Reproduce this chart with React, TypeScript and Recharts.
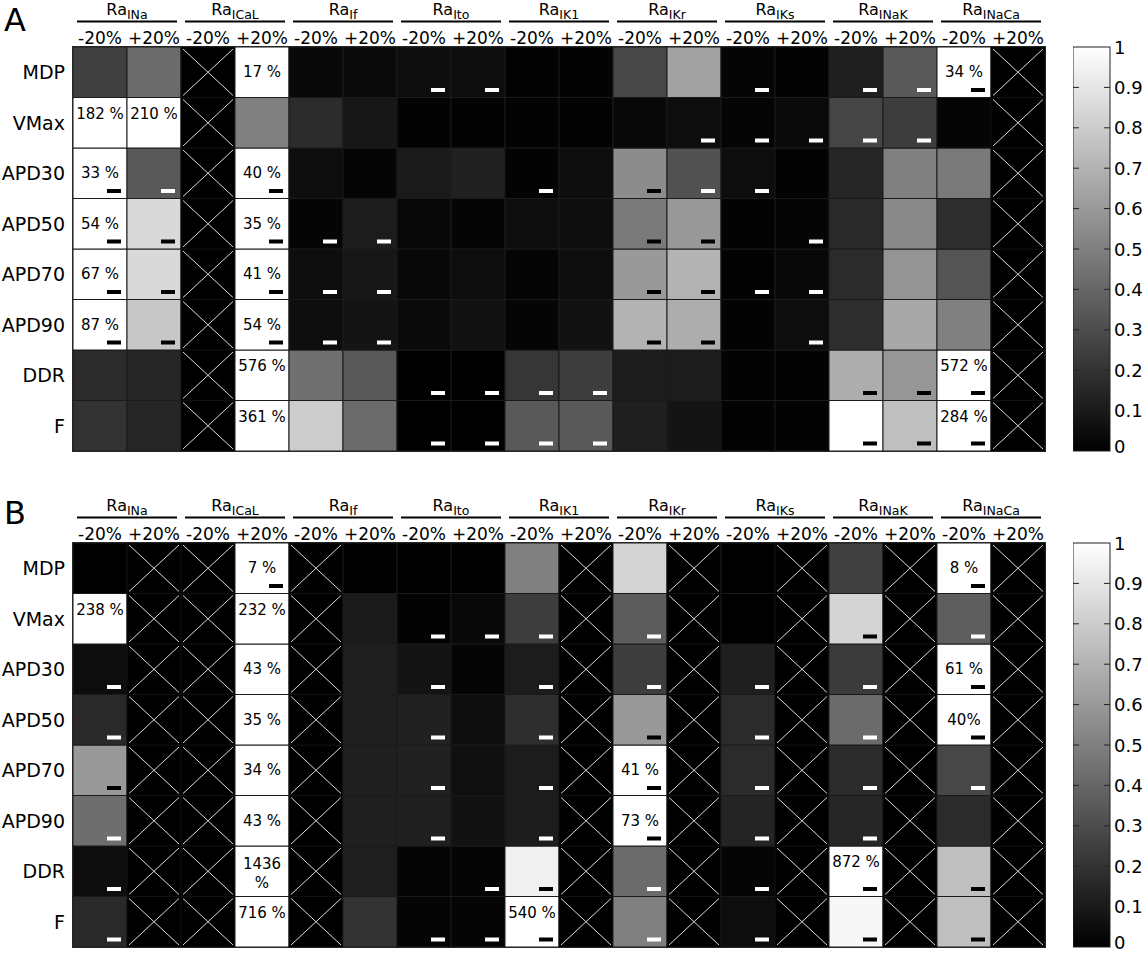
import React from "react"
import { BarChart, Bar, XAxis, YAxis, ReferenceArea } from "recharts"

const FONT = "DejaVu Sans"

const ROWS = ['MDP', 'VMax', 'APD30', 'APD50', 'APD70', 'APD90', 'DDR', 'F']
const CURRENTS = ['INa', 'ICaL', 'If', 'Ito', 'IK1', 'IKr', 'IKs', 'INaK', 'INaCa']
const CHANGES = ['-20%', '+20%']
const CB_TICKS = [0, 0.1, 0.2, 0.3, 0.4, 0.5, 0.6, 0.7, 0.8, 0.9, 1]
const X = null // crossed out cell

// panel A, one array per biomarker (18 columns: current x -20%/+20%)
const A_MDP = [0.25, 0.42, X, 1, 0.03, 0.04, 0.05, 0.05, 0.01, 0.01, 0.28, 0.63, 0.02, 0.01, 0.12, 0.35, 1, X]
const A_VMAX = [1, 1, X, 0.5, 0.17, 0.09, 0.01, 0.01, 0.01, 0.01, 0.03, 0.05, 0.02, 0.04, 0.27, 0.24, 0.02, X]
const A_APD30 = [1, 0.35, X, 1, 0.05, 0.02, 0.1, 0.13, 0.01, 0.05, 0.55, 0.32, 0.05, 0.01, 0.15, 0.5, 0.48, X]
const A_APD50 = [1, 0.85, X, 1, 0.02, 0.11, 0.03, 0.02, 0.05, 0.05, 0.48, 0.6, 0.01, 0.02, 0.16, 0.54, 0.18, X]
const A_APD70 = [1, 0.85, X, 1, 0.05, 0.09, 0.03, 0.05, 0.02, 0.05, 0.6, 0.7, 0.01, 0.03, 0.17, 0.58, 0.33, X]
const A_APD90 = [1, 0.78, X, 1, 0.05, 0.08, 0.04, 0.07, 0.02, 0.07, 0.7, 0.68, 0.01, 0.05, 0.18, 0.66, 0.5, X]
const A_DDR = [0.17, 0.15, X, 1, 0.44, 0.35, 0, 0, 0.21, 0.24, 0.11, 0.11, 0.01, 0.01, 0.68, 0.59, 1, X]
const A_F = [0.2, 0.15, X, 1, 0.8, 0.42, 0, 0, 0.35, 0.35, 0.12, 0.08, 0.01, 0.01, 1, 0.75, 1, X]

// dash under a cell: w = white dash, k = black dash
const A_MARKS = [
    '......ww....w.wwk.',
    '...........wwwww..',
    'kw.k....w.kww.....',
    'kk.kww....kk.w....',
    'kk.kww....kkww....',
    'kk.kww....kk.w....',
    '......wwww....kkk.',
    '......wwww....kkk.',
]

const A_TEXT: [number, number, string][] = [
    [0, 3, '17 %'], [0, 16, '34 %'], [1, 0, '182 %'], [1, 1, '210 %'],
    [2, 0, '33 %'], [2, 3, '40 %'], [3, 0, '54 %'], [3, 3, '35 %'],
    [4, 0, '67 %'], [4, 3, '41 %'], [5, 0, '87 %'], [5, 3, '54 %'],
    [6, 3, '576 %'], [6, 16, '572 %'], [7, 3, '361 %'], [7, 16, '284 %'],
]

// panel B
const B_MDP = [0, X, X, 1, X, 0, 0, 0, 0.5, X, 0.83, X, 0, X, 0.25, X, 1, X]
const B_VMAX = [1, X, X, 1, X, 0.1, 0.01, 0.03, 0.24, X, 0.36, X, 0, X, 0.83, X, 0.37, X]
const B_APD30 = [0.05, X, X, 1, X, 0.12, 0.08, 0.02, 0.11, X, 0.24, X, 0.12, X, 0.23, X, 1, X]
const B_APD50 = [0.16, X, X, 1, X, 0.12, 0.13, 0.05, 0.18, X, 0.6, X, 0.17, X, 0.42, X, 1, X]
const B_APD70 = [0.6, X, X, 1, X, 0.12, 0.13, 0.06, 0.11, X, 1, X, 0.17, X, 0.17, X, 0.28, X]
const B_APD90 = [0.43, X, X, 1, X, 0.12, 0.12, 0.07, 0.11, X, 1, X, 0.14, X, 0.15, X, 0.17, X]
const B_DDR = [0.05, X, X, 1, X, 0.12, 0.02, 0.02, 0.94, X, 0.42, X, 0.02, X, 1, X, 0.75, X]
const B_F = [0.16, X, X, 1, X, 0.2, 0.02, 0.02, 1, X, 0.5, X, 0.05, X, 0.97, X, 0.75, X]

const B_MARKS = [
    '...k............k.',
    '......www.w...k.w.',
    'w.....w.w.w.w.w.k.',
    'w.....w.w.k.w.w.k.',
    'k.....w.w.k.w.w.w.',
    'w.....w.w.k.w.w...',
    'w......wk.w.w.k.k.',
    'w.....wwk.w.w.k.k.',
]

const B_TEXT: [number, number, string][] = [
    [0, 3, '7 %'], [0, 16, '8 %'], [1, 0, '238 %'], [1, 3, '232 %'],
    [2, 3, '43 %'], [2, 16, '61 %'], [3, 3, '35 %'], [3, 16, '40%'],
    [4, 3, '34 %'], [4, 10, '41 %'], [5, 3, '43 %'], [5, 10, '73 %'],
    [6, 3, '1436\n%'], [6, 14, '872 %'], [7, 3, '716 %'], [7, 8, '540 %'],
]

const PANEL_A = {
    values: [A_MDP, A_VMAX, A_APD30, A_APD50, A_APD70, A_APD90, A_DDR, A_F],
    marks: A_MARKS,
    texts: A_TEXT,
}
const PANEL_B = {
    values: [B_MDP, B_VMAX, B_APD30, B_APD50, B_APD70, B_APD90, B_DDR, B_F],
    marks: B_MARKS,
    texts: B_TEXT,
}

// every cell is a unit block in a stack of 8 rows
const COL_KEYS = CURRENTS.flatMap(c => CHANGES.map(ch => `${c}${ch}`))
const columnData = COL_KEYS.map((key, ci) => {
    const row: any = { key, ci }
    ROWS.forEach((_, r) => { row[`r${r}`] = 1 })
    return row
})

const COL_W = 54
const PLOT_W = COL_W * 18
const Y_AXIS_W = 60
const CHART_H = 455
const CB_W = 37

const gray = (v: number) => {
    const g = Math.round(v * 255)
    return `rgb(${g},${g},${g})`
}

const txt = (size: number): React.CSSProperties => ({ fontSize: `${size}px`, fontFamily: FONT })

function renderCell(p: any, panel: any, r: number) {
    const { x, y, width: w, height: h, payload } = p
    const c = payload.ci
    const v = panel.values[r][c]
    const mark = panel.marks[r][c]
    const label = panel.texts.find((t: any) => t[0] === r && t[1] === c)
    const cx = x + w / 2
    const cy = y + h / 2
    if (v === null) {
        return (
            <g>
                <rect x={x} y={y} width={w} height={h} fill="#000" stroke="#111" strokeWidth={1} />
                <line x1={x + 2} y1={y + 2} x2={x + w - 2} y2={y + h - 2} stroke="#dcdcdc" strokeWidth={1} />
                <line x1={x + 2} y1={y + h - 2} x2={x + w - 2} y2={y + 2} stroke="#dcdcdc" strokeWidth={1} />
            </g>
        )
    }
    let text = null
    if (label) {
        const s: string = label[2]
        if (s.includes('\n')) {
            const [l1, l2] = s.split('\n')
            text = (
                <text textAnchor="middle" style={txt(15)} fill="#000">
                    <tspan x={cx} y={cy - 2}>{l1}</tspan>
                    <tspan x={cx} y={cy + 17}>{l2}</tspan>
                </text>
            )
        } else {
            const by = s.length >= 5 ? cy - 4 : cy + 5
            text = <text x={cx} y={by} textAnchor="middle" style={txt(15)} fill="#000">{s}</text>
        }
    }
    return (
        <g>
            <rect x={x} y={y} width={w} height={h} fill={gray(v)} stroke="#1a1a1a" strokeWidth={1} />
            {text}
            {mark !== '.' && (
                <rect x={x + w - 20} y={y + h - 9.5} width={14} height={4} fill={mark === 'w' ? '#fff' : '#000'} />
            )}
        </g>
    )
}

function ColumnTick(props: any) {
    const { x, y, payload } = props
    const ci = COL_KEYS.indexOf(payload.value)
    const j = ci % 2
    return (
        <g>
            <text x={x} y={y - 3} textAnchor="middle" style={txt(17)} fill="#000">{CHANGES[j]}</text>
            {j === 0 && (
                <g>
                    <text x={x + COL_W / 2} y={y - 32} textAnchor="middle" style={txt(16)} fill="#000">
                        <tspan>Ra</tspan>
                        <tspan style={txt(12.5)} dy={3.5}>{CURRENTS[ci / 2]}</tspan>
                    </text>
                    <line x1={x - COL_W / 2 + 4} x2={x + COL_W * 1.5 - 4} y1={y - 25.5} y2={y - 25.5} stroke="#000" strokeWidth={2} />
                </g>
            )}
        </g>
    )
}

function RowTick(props: any) {
    const { x, y, payload } = props
    const r = 7 - Math.floor(payload.value)
    return (
        <text x={x - 8} y={y + 7} textAnchor="end" style={txt(19)} fill="#000">{ROWS[r]}</text>
    )
}

function CbTick(props: any) {
    const { x, y, payload } = props
    const v = payload.value
    const s = v === 0 ? '0' : v === 1 ? '1' : v.toFixed(1)
    return (
        <g>
            {v > 0 && v < 1 && (
                <g>
                    <line x1={x - CB_W} x2={x - CB_W + 6} y1={y} y2={y} stroke="#222" strokeWidth={1} />
                    <line x1={x - 6} x2={x} y1={y} y2={y} stroke="#222" strokeWidth={1} />
                </g>
            )}
            <text x={x + 4} y={v === 0 ? y + 2 : y + 6.5} textAnchor="start" style={txt(18)} fill="#000">{s}</text>
        </g>
    )
}

function Heatmap({ panel }: { panel: any }) {
    return (
        <BarChart
            width={Y_AXIS_W + 13 + PLOT_W + 4}
            height={CHART_H}
            data={columnData}
            margin={{ top: 7, right: 4, bottom: 4, left: 13 }}
            barCategoryGap={0}
            barGap={0}
        >
            <XAxis
                dataKey="key"
                orientation="top"
                height={40}
                axisLine={false}
                tickLine={false}
                tickSize={0}
                tickMargin={0}
                interval={0}
                tick={<ColumnTick />}
            />
            <YAxis
                type="number"
                domain={[0, 8]}
                ticks={[0.5, 1.5, 2.5, 3.5, 4.5, 5.5, 6.5, 7.5]}
                interval={0}
                width={Y_AXIS_W}
                axisLine={false}
                tickLine={false}
                tickSize={0}
                tickMargin={0}
                tick={<RowTick />}
            />
            {[7, 6, 5, 4, 3, 2, 1, 0].map(r => (
                <Bar
                    key={r}
                    dataKey={`r${r}`}
                    stackId="cells"
                    isAnimationActive={false}
                    shape={(p: any) => renderCell(p, panel, r)}
                />
            ))}
            <ReferenceArea
                x1={COL_KEYS[0]}
                x2={COL_KEYS[17]}
                y1={0}
                y2={8}
                fill="none"
                stroke="#333"
                strokeWidth={2}
                ifOverflow="visible"
            />
        </BarChart>
    )
}

function Colorbar({ id }: { id: string }) {
    return (
        <BarChart
            width={CB_W + 40}
            height={CHART_H + 8}
            data={[{ name: 'cb', v: 1 }]}
            margin={{ top: 47, right: 0, bottom: 12, left: 0 }}
            barCategoryGap={0}
        >
            <XAxis dataKey="name" hide />
            <YAxis
                orientation="right"
                type="number"
                domain={[0, 1]}
                ticks={CB_TICKS}
                interval={0}
                width={40}
                axisLine={false}
                tickLine={false}
                tickSize={0}
                tickMargin={0}
                tick={<CbTick />}
            />
            <Bar
                dataKey="v"
                isAnimationActive={false}
                shape={(p: any) => (
                    <g>
                        <defs>
                            <linearGradient id={id} x1="0" y1="0" x2="0" y2="1">
                                <stop offset="0%" stopColor="#fff" />
                                <stop offset="100%" stopColor="#000" />
                            </linearGradient>
                        </defs>
                        <rect x={p.x} y={p.y} width={p.width} height={p.height} fill={`url(#${id})`} stroke="#222" strokeWidth={1} />
                    </g>
                )}
            />
        </BarChart>
    )
}

export default function App() {
    const panelLabel: React.CSSProperties = {
        position: 'absolute',
        left: 4,
        fontFamily: FONT,
        fontSize: 32,
        lineHeight: '32px',
        color: '#000',
    }
    return (
        <div style={{ position: 'absolute', left: 0, top: 0, width: 1146, height: 955, background: '#fff', overflow: 'hidden' }}>
            <div style={{ ...panelLabel, top: 4 }}>A</div>
            <div style={{ ...panelLabel, top: 497 }}>B</div>
            <div style={{ position: 'absolute', left: 0, top: 0 }}>
                <Heatmap panel={PANEL_A} />
            </div>
            <div style={{ position: 'absolute', left: 0, top: 496 }}>
                <Heatmap panel={PANEL_B} />
            </div>
            <div style={{ position: 'absolute', left: 1073, top: 0 }}>
                <Colorbar id="cbA" />
            </div>
            <div style={{ position: 'absolute', left: 1073, top: 496 }}>
                <Colorbar id="cbB" />
            </div>
        </div>
    )
}
